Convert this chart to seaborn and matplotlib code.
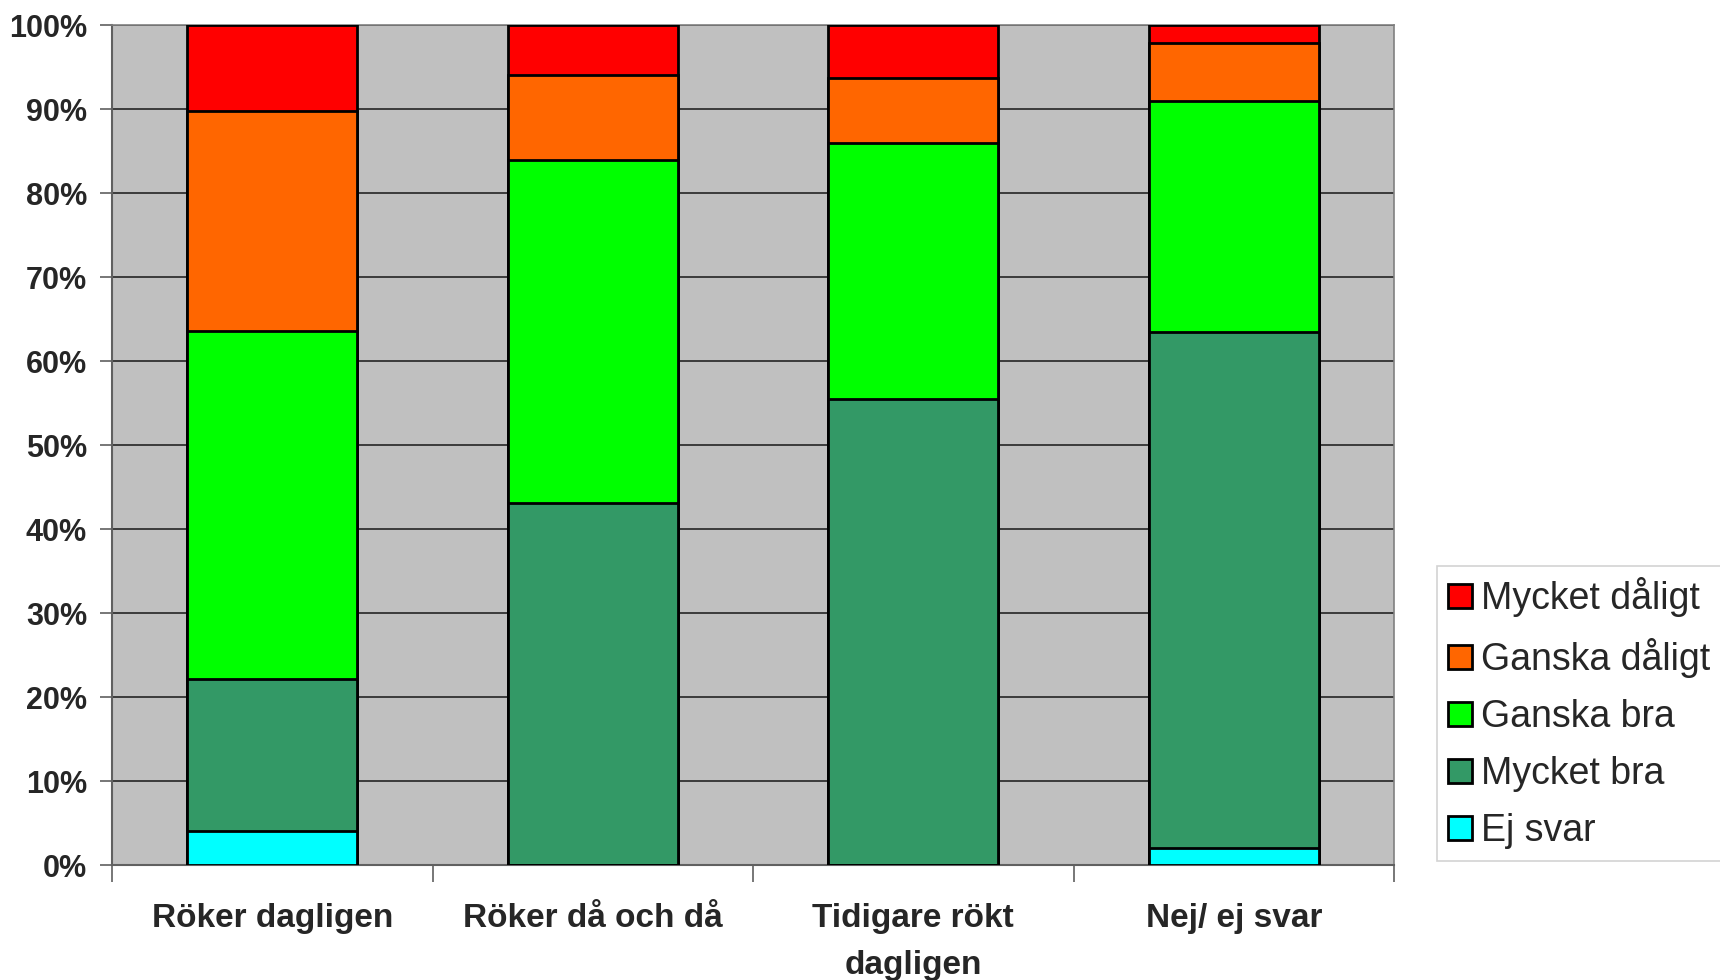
import matplotlib
matplotlib.use("Agg")
import matplotlib.pyplot as plt
import numpy as np
import pandas as pd
import seaborn as sns
from matplotlib.patches import Patch
from matplotlib.ticker import FixedLocator, PercentFormatter

categories = ["Röker dagligen", "Röker då och då", "Tidigare rökt\ndagligen", "Nej/ ej svar"]
# stack order bottom -> top
series = ["Ej svar", "Mycket bra", "Ganska bra", "Ganska dåligt", "Mycket dåligt"]
ej_svar = [4.0, 0.0, 0.0, 2.0]
mycket_bra = [18.2, 43.1, 55.5, 61.4]
ganska_bra = [41.4, 40.8, 30.4, 27.6]
ganska_daligt = [26.2, 10.1, 7.8, 6.9]
mycket_daligt = [10.2, 6.0, 6.3, 2.1]
colors = ["#00FFFF", "#339966", "#00FF00", "#FF6600", "#FF0000"]

sns.set_theme(style="white")
plt.rcParams["font.family"] = ["Liberation Sans", "DejaVu Sans"]

values = np.array([ej_svar, mycket_bra, ganska_bra, ganska_daligt, mycket_daligt])
tops = values.cumsum(axis=0)

fig = plt.figure(figsize=(17.2, 9.8), dpi=100)
ax = fig.add_axes([112 / 1720, 1 - 865 / 980, (1394 - 112) / 1720, (865 - 25) / 980])
ax.set_facecolor("#C0C0C0")

# draw cumulative heights from the top segment down so each covers the one above
for i in range(len(series) - 1, -1, -1):
    df = pd.DataFrame({"cat": categories, "top": tops[i]})
    sns.barplot(data=df, x="cat", y="top", order=categories, color=colors[i],
                saturation=1, width=0.53, edgecolor="black", linewidth=2,
                ax=ax, zorder=3)

ax.set_xlim(-0.5, 3.5)
ax.set_ylim(0, 100)
ax.set_xlabel("")
ax.set_ylabel("")

ax.yaxis.set_major_locator(FixedLocator(np.arange(0, 101, 10)))
ax.yaxis.set_major_formatter(PercentFormatter(decimals=0))
ax.grid(axis="y", color="#303030", linewidth=1.3, zorder=1)
ax.set_axisbelow(True)

ax.xaxis.set_minor_locator(FixedLocator([-0.5, 0.5, 1.5, 2.5, 3.5]))
ax.tick_params(axis="x", which="major", length=0, pad=27, labelsize=24)
ax.tick_params(axis="x", which="minor", length=12, width=1.2, color="#606060", bottom=True)
ax.tick_params(axis="y", which="major", length=9, width=1.2, color="#606060", left=True,
               pad=9, labelsize=22)
for lbl in ax.get_xticklabels() + ax.get_yticklabels():
    lbl.set_fontweight("bold")
for lbl in ax.get_xticklabels():
    lbl.set_linespacing(1.7)

for side in ["left", "bottom"]:
    ax.spines[side].set_color("#606060")
    ax.spines[side].set_linewidth(1.5)
for side in ["top", "right"]:
    ax.spines[side].set_color("#808080")
    ax.spines[side].set_linewidth(1.2)

handles = [Patch(facecolor=colors[i], edgecolor="black", linewidth=2, label=series[i])
           for i in range(len(series) - 1, -1, -1)]
leg = fig.legend(handles=handles, loc="upper left",
                 bbox_to_anchor=(1437 / 1720, 1 - 566 / 980),
                 fontsize=27, frameon=True, fancybox=False,
                 handlelength=0.62, handleheight=0.62, handletextpad=0.25,
                 labelspacing=0.56, borderpad=0.3, borderaxespad=0)
leg.get_frame().set_edgecolor("#C8C8C8")
leg.get_frame().set_linewidth(1.2)

fig.savefig("out.png", dpi=100)
